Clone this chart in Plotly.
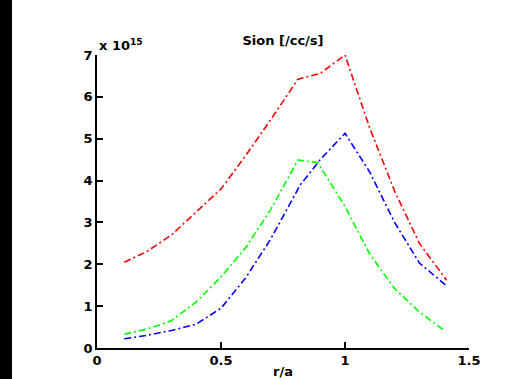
import plotly.graph_objects as go

# r/a positions and Sion values (units of 1e15 /cc/s)
r_red = [0.11, 0.2, 0.3, 0.4, 0.5, 0.6, 0.7, 0.81, 0.9, 1.0, 1.1, 1.2, 1.3, 1.41]
sion_red = [2.05, 2.3, 2.7, 3.25, 3.8, 4.6, 5.45, 6.42, 6.56, 7.0, 5.25, 3.75, 2.5, 1.62]

r_blue = [0.11, 0.2, 0.3, 0.4, 0.5, 0.6, 0.7, 0.82, 0.9, 1.0, 1.1, 1.2, 1.3, 1.41]
sion_blue = [0.22, 0.3, 0.42, 0.57, 0.95, 1.68, 2.6, 3.9, 4.5, 5.13, 4.2, 3.0, 2.03, 1.48]

r_green = [0.11, 0.2, 0.3, 0.4, 0.5, 0.6, 0.7, 0.81, 0.89, 1.0, 1.1, 1.2, 1.3, 1.4]
sion_green = [0.33, 0.45, 0.65, 1.1, 1.7, 2.4, 3.3, 4.49, 4.43, 3.38, 2.24, 1.42, 0.86, 0.42]

x_ticks = [0, 0.5, 1, 1.5]
x_tick_labels = ["0", "0.5", "1", "1.5"]
y_ticks = [0, 1, 2, 3, 4, 5, 6, 7]
y_tick_labels = ["0", "1", "2", "3", "4", "5", "6", "7"]

fig = go.Figure()
for xs, ys, col in [(r_red, sion_red, "#ff0000"),
                    (r_green, sion_green, "#00ff00"),
                    (r_blue, sion_blue, "#0000ff")]:
    fig.add_trace(go.Scatter(x=xs, y=ys, mode="lines",
                             line=dict(color=col, width=1.6, dash="7px,3px,2px,3px"),
                             showlegend=False, hoverinfo="skip"))

W, H = 525, 379
L, R, T, B = 97, 56, 55, 31
pw = W - L - R
ph = H - T - B

FONT = "DejaVu Sans, Liberation Sans, Arial, sans-serif"

fig.update_layout(
    width=W, height=H,
    margin=dict(l=L, r=R, t=T, b=B, autoexpand=False),
    paper_bgcolor="white", plot_bgcolor="white",
    font=dict(family=FONT, color="black", size=13),
    title=dict(text="<b>Sion [/cc/s]</b>", x=(L + 0.5 * pw) / W, xanchor="center",
               y=1 - 40 / H, yanchor="middle", font=dict(size=13, family=FONT)),
    xaxis=dict(range=[0, 1.5], tickvals=x_ticks,
               ticktext=["<b>%s</b>" % t for t in x_tick_labels],
               showgrid=False, zeroline=False, showline=True, linecolor="black",
               linewidth=1.5, ticks="inside", ticklen=6, tickcolor="black",
               tickwidth=1.5, tickfont=dict(size=13, family=FONT),
               automargin=False,
               title=dict(text="<b>r/a</b>", font=dict(size=13, family=FONT), standoff=11)),
    yaxis=dict(range=[0, 7], tickvals=y_ticks,
               ticktext=["<b>%s</b>" % t for t in y_tick_labels],
               showgrid=False, zeroline=False, showline=True, linecolor="black",
               linewidth=1.5, ticks="inside", ticklen=6, tickcolor="black",
               tickwidth=1.5, tickfont=dict(size=13, family=FONT),
               automargin=False),
    shapes=[dict(type="rect", xref="paper", yref="paper",
                 x0=-L / pw - 0.05, x1=(12 - L) / pw,
                 y0=-B / ph - 0.05, y1=1 + T / ph + 0.05,
                 fillcolor="black", line=dict(width=0), layer="above")],
    annotations=[dict(text="<b>x 10<sup>15</sup></b>", xref="paper", yref="paper",
                      x=0, y=1, xanchor="left", yanchor="bottom", yshift=0,
                      showarrow=False, font=dict(size=13, family=FONT))],
)

fig.write_html("out.html")
